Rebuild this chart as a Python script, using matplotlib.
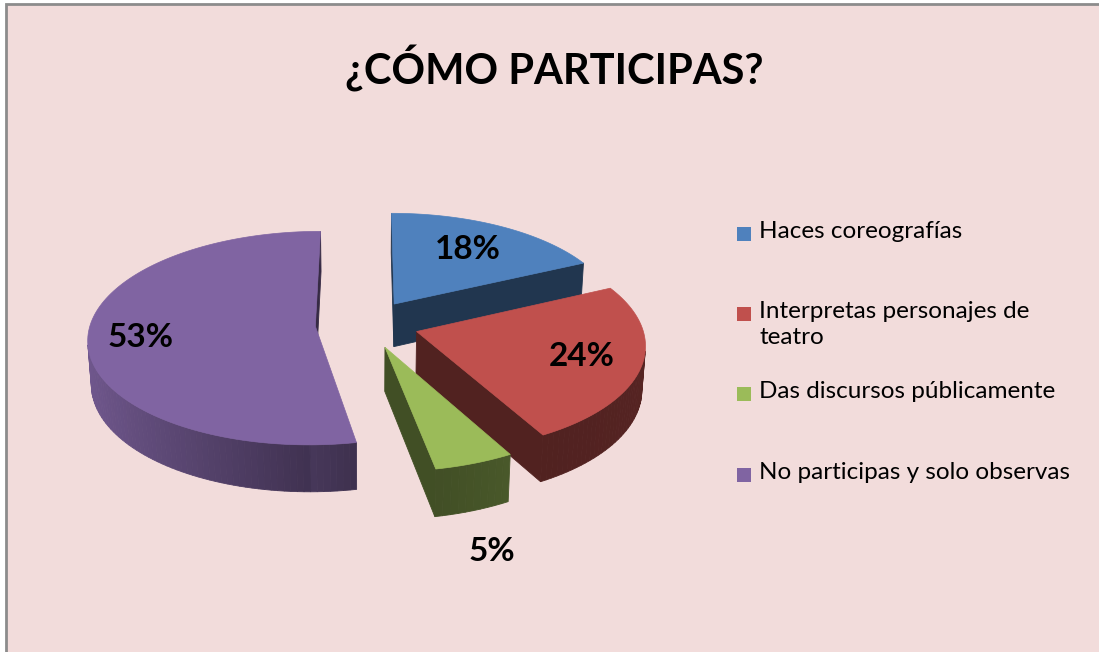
import numpy as np
import matplotlib
matplotlib.use("Agg")
import matplotlib.pyplot as plt
from matplotlib.patches import Polygon, Rectangle

# ---------------- data ----------------
title = "¿CÓMO PARTICIPAS?"
categories = ["Haces coreografías", "Interpretas personajes de\nteatro",
              "Das discursos públicamente", "No participas y solo observas"]
percent = [18, 24, 5, 53]
labels = ["18%", "24%", "5%", "53%"]
colors = ["#4F81BD", "#C0504D", "#9BBB59", "#8064A2"]

# ---------------- figure ----------------
W, Hpx = 1099, 652
fig = plt.figure(figsize=(W / 100, Hpx / 100), dpi=100)
fig.patch.set_facecolor("white")
ax = fig.add_axes([0, 0, 1, 1])
ax.set_xlim(0, W)
ax.set_ylim(Hpx, 0)
ax.axis("off")

ax.add_patch(Rectangle((6, 4), W + 10, Hpx + 10, facecolor="#F2DCDB",
                       edgecolor="#8C8C8C", lw=2, zorder=0))

# ---------------- 3D projection ----------------
cx, cy = 367, 324
S = 225.0
elev = np.radians(27.8)
Dcam = 8.0
Hth = 0.22
explode = 0.23


def proj(X, Y, Z):
    X, Y, Z = np.asarray(X, float), np.asarray(Y, float), np.asarray(Z, float)
    up = Y * np.sin(elev) + Z * np.cos(elev)
    depth = Dcam + Y * np.cos(elev) - Z * np.sin(elev)
    f = Dcam / depth
    return cx + S * X * f, cy - S * up * f, depth


def rgb_scale(c, k):
    c = np.array(matplotlib.colors.to_rgb(c))
    return tuple(np.clip(c * k, 0, 1))


def signed_area(xs, ys):
    yy = -np.asarray(ys)
    xx = np.asarray(xs)
    return 0.5 * np.sum(xx * np.roll(yy, -1) - np.roll(xx, -1) * yy)


fr = np.array(percent, float) / sum(percent)
starts = np.concatenate([[0], np.cumsum(fr)[:-1]]) * 2 * np.pi
ends = np.cumsum(fr) * 2 * np.pi

side_faces = []
top_faces = []

for i in range(len(percent)):
    a0, a1 = starts[i], ends[i]
    mid = 0.5 * (a0 + a1)
    ox, oy = explode * np.sin(mid), explode * np.cos(mid)
    th = np.linspace(a0, a1, max(8, int((a1 - a0) / np.radians(1.5))))
    Xa = ox + np.sin(th)
    Ya = oy + np.cos(th)
    base = colors[i]
    dark = rgb_scale(base, 0.42)

    xs, ys, _ = proj(np.r_[ox, Xa], np.r_[oy, Ya], np.zeros(len(th) + 1))
    top_faces.append((xs, ys, base))

    nq = len(th) - 1
    for j in range(nq):
        qx = [Xa[j], Xa[j + 1], Xa[j + 1], Xa[j]]
        qy = [Ya[j], Ya[j + 1], Ya[j + 1], Ya[j]]
        qz = [0, 0, -Hth, -Hth]
        px, py, d = proj(qx, qy, qz)
        if signed_area(px, py) < 0:
            continue
        tm = 0.5 * (th[j] + th[j + 1])
        k = max(0.42, 0.50 - 0.38 * np.sin(tm))
        # slight left-to-right gradient across each curved side
        k *= 1.12 - 0.12 * (j / max(nq - 1, 1)) if np.sin(tm) > 0 else 1.0
        col = rgb_scale(base, k)
        side_faces.append((d.mean(), px, py, col))

    for ang, sign in ((a0, 1), (a1, -1)):
        ex, ey = ox + np.sin(ang), oy + np.cos(ang)
        if sign == 1:
            qx = [ox, ex, ex, ox]
            qy = [oy, ey, ey, oy]
        else:
            qx = [ex, ox, ox, ex]
            qy = [ey, oy, oy, ey]
        qz = [0, 0, -Hth, -Hth]
        px, py, d = proj(qx, qy, qz)
        if signed_area(px, py) < 0:
            continue
        side_faces.append((d.mean(), px, py, dark))

side_faces.sort(key=lambda t: -t[0])
for d, px, py, col in side_faces:
    ax.add_patch(Polygon(np.c_[px, py], closed=True, facecolor=col,
                         edgecolor=col, lw=0.6, zorder=2))
for xs, ys, col in top_faces:
    ax.add_patch(Polygon(np.c_[xs, ys], closed=True, facecolor=col,
                         edgecolor=col, lw=0.5, zorder=3))

# ---------------- data labels ----------------
lab_r = [0.68, 0.74, 1.28, 0.77]
lab_a = [0.0, 0.0, 0.03, -0.04]
lab_z = [0.0, 0.0, -Hth, 0.0]
for i in range(len(percent)):
    mid = 0.5 * (starts[i] + ends[i])
    ox, oy = explode * np.sin(mid), explode * np.cos(mid)
    a = mid + lab_a[i]
    X = ox + lab_r[i] * np.sin(a)
    Y = oy + lab_r[i] * np.cos(a)
    px, py, _ = proj(X, Y, lab_z[i])
    ax.text(px, py, labels[i], ha="center", va="center", fontsize=24,
            fontweight="bold", family="Lato", color="black", zorder=5)

# ---------------- title ----------------
ax.text(554, 68, title, ha="center", va="center", fontsize=30,
        fontweight="bold", family="Lato", color="black")

# ---------------- legend ----------------
leg_y = [234, 314, 394, 475]
for i, cat in enumerate(categories):
    ax.add_patch(Rectangle((737, leg_y[i] - 7), 14, 14, facecolor=colors[i],
                           edgecolor="none", zorder=4))
    ax.text(759, leg_y[i] - 13, cat, ha="left", va="top", fontsize=17.5,
            family="Lato", color="black", linespacing=1.3)

fig.savefig("out.png", dpi=100, facecolor=fig.get_facecolor())
